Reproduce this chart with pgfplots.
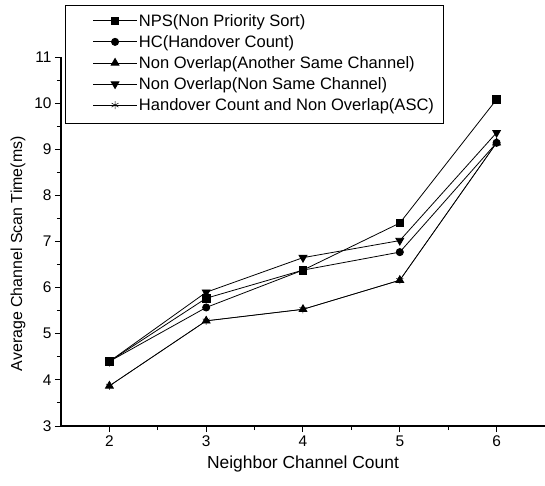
\documentclass[border=0pt]{standalone}
\usepackage{pgfplots}
\pgfplotsset{compat=1.18}
\usepackage{fontspec}
\setmainfont{Liberation Sans}
\begin{document}
\begin{tikzpicture}
\useasboundingbox (-61bp,-60bp) rectangle (484bp,426bp);
\begin{axis}[
 at={(0,0)}, anchor=south west,
 scale only axis, width=484bp, height=369bp,
 xmin=1.5, xmax=6.5, ymin=3, ymax=11,
 axis x line*=bottom, axis y line*=left,
 axis line style={-, line width=1.4bp},
 xtick={2,3,4,5,6}, ytick={3,4,...,11},
 minor x tick num=1, minor y tick num=1,
 tick align=outside,
 major tick length=6bp, minor tick length=4bp,
 tick style={line width=1bp, black},
 /pgf/number format/assume math mode=true,
 tick label style={font=\fontsize{15.5}{18}\selectfont},
 xlabel={Neighbor Channel Count},
 ylabel={Average Channel Scan Time(ms)},
 xlabel style={font=\fontsize{17.5}{20}\selectfont, at={(axis description cs:0.5,-0.103)}, anchor=center},
 ylabel style={font=\fontsize{16}{19}\selectfont, at={(axis description cs:-0.0888,0.467)}, anchor=center},
 clip=false,
 legend cell align=left,
 legend style={at={(axis description cs:0.065,1.121)}, anchor=north west,
   draw=none, fill=none, font=\fontsize{16.6}{19}\selectfont,
   nodes={inner sep=1.5bp}, row sep=4.6bp, inner sep=0pt},
 legend image code/.code={%
   \draw[mark repeat=2,mark phase=2] plot coordinates {(0bp,0bp)(22bp,0bp)(44bp,0bp)};},
 every axis plot/.append style={black, line width=0.8bp},
]
\addplot[mark=square*, mark size=3.8bp] coordinates {(2,4.40)(3,5.77)(4,6.38)(5,7.40)(6,10.08)};
\addlegendentry{NPS(Non Priority Sort)}
\addplot[mark=*, mark size=3.6bp] coordinates {(2,4.40)(3,5.57)(4,6.38)(5,6.77)(6,9.14)};
\addlegendentry{HC(Handover Count)}
\addplot[mark=triangle*, mark size=4.5bp] coordinates {(2,3.87)(3,5.28)(4,5.53)(5,6.16)(6,9.14)};
\addlegendentry{Non Overlap(Another Same Channel)}
\addplot[mark=triangle*, mark size=4.5bp, mark options={rotate=180}] coordinates {(2,4.40)(3,5.90)(4,6.65)(5,7.02)(6,9.36)};
\addlegendentry{Non Overlap(Non Same Channel)}
\addplot[mark=asterisk, mark size=4bp, line width=0.5bp] coordinates {(2,3.87)(3,5.28)(4,5.53)(5,6.16)(6,9.14)};
\addlegendentry{Handover Count and Non Overlap(ASC)}
\end{axis}
\draw[line width=0.7bp] (4bp,303bp) rectangle (382bp,421bp);
\end{tikzpicture}
\end{document}
